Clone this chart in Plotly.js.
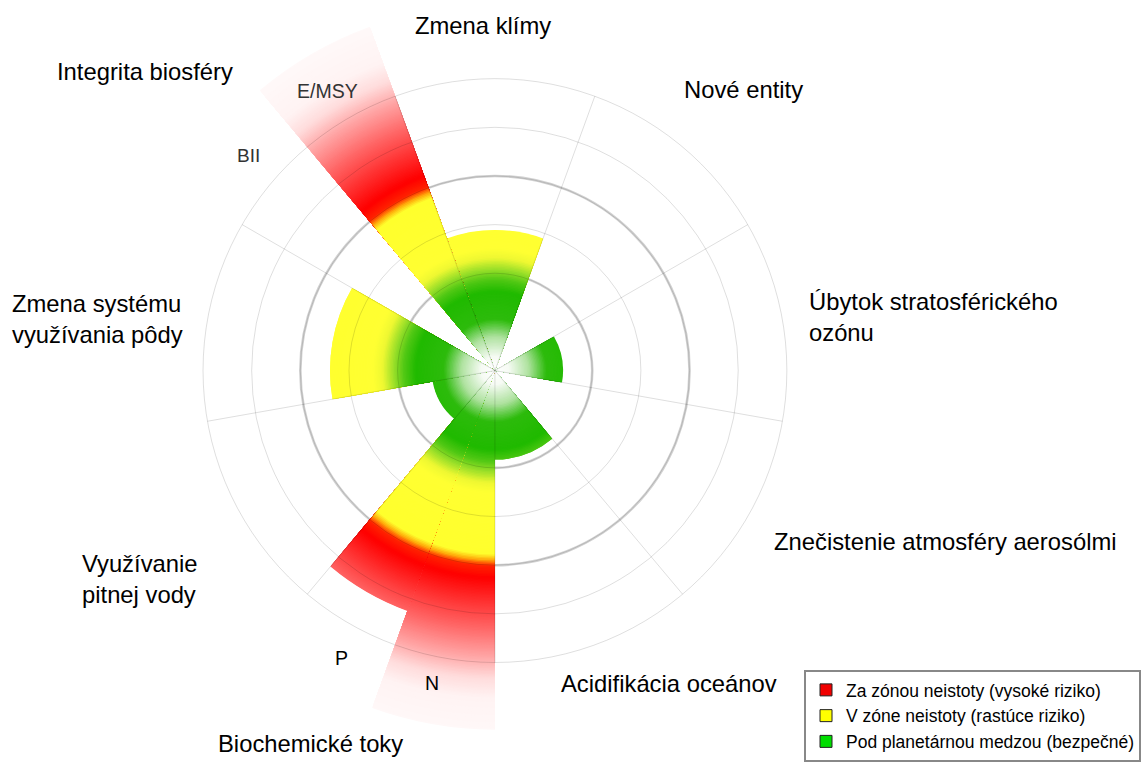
<!DOCTYPE html>
<html><head><meta charset="utf-8">
<script src="https://cdn.plot.ly/plotly-3.0.1.min.js"></script>
<style>html,body{margin:0;padding:0;background:#fff}#chart{width:1141px;height:762px}</style>
</head><body><div id="chart"></div>
<script>
// ---- data ----
const categories = ['Zmena klímy','Nové entity','Úbytok stratosférického ozónu','Znečistenie atmosféry aerosólmi','Acidifikácia oceánov','Biochemické toky – N','Biochemické toky – P','Využívanie pitnej vody','Zmena systému využívania pôdy','Integrita biosféry – BII','Integrita biosféry – E/MSY'];
const thetaCenter = [0, 40, 80, 120, 160, 190, 210, 240, 280, 310, 330];
const thetaWidth  = [40, 40, 40, 40, 40, 20, 20, 40, 40, 20, 20];
// control variable in units where the planetary boundary = 2 (null = not quantified)
const values = [2.89, null, 1.40, null, 1.83, 7.38, 5.26, 1.30, 3.39, null, 7.52];
const legendNames = ['Za zónou neistoty (vysoké riziko)', 'V zóne neistoty (rastúce riziko)', 'Pod planetárnou medzou (bezpečné)'];
const legendColors = ['#f00000', '#ffff00', '#00dd00'];

// ---- geometry / style ----
const W = 1141, H = 762, CX = 498, CY = 375.5, PX = 49.3, STEP = 0.03;
// radial colour ramp (pixel radius -> rgb)
const stops = [
  [0,255,255,255],[14,246,251,244],[34,175,226,160],[52,45,187,12],[80,32,186,0],
  [92,80,200,20],[102,150,222,40],[114,238,248,50],[124,255,255,50],[186,255,255,45],
  [192,255,170,10],[198,255,35,0],[210,255,0,0],[230,255,40,40],[260,255,100,100],
  [290,255,165,165],[312,255,220,220],[332,255,243,243],[380,255,250,250]];
function colorAt(p){
  for(let i=1;i<stops.length;i++){
    if(p<=stops[i][0]){const a=stops[i-1],b=stops[i],t=(p-a[0])/(b[0]-a[0]);
      return 'rgb('+[1,2,3].map(j=>Math.round(a[j]+(b[j]-a[j])*t)).join(',')+')';}
  }
  const l=stops[stops.length-1];return 'rgb('+l[1]+','+l[2]+','+l[3]+')';
}
const bandR=[], bandT=[], bandW=[], bandC=[];
values.forEach((v,i)=>{
  if(v==null) return;
  const n=Math.ceil(v/STEP);
  for(let k=n;k>=1;k--){
    bandR.push(Math.min(v,k*STEP)); bandT.push(thetaCenter[i]); bandW.push(thetaWidth[i]);
    bandC.push(colorAt((k-0.5)*STEP*PX));
  }
});
const traces=[{type:'barpolar', subplot:'polar', r:bandR, theta:bandT, width:bandW,
  marker:{color:bandC, line:{width:0}}, showlegend:false, hoverinfo:'skip'}];
legendNames.forEach((nm,i)=>traces.push({type:'barpolar', subplot:'polar', r:[null], theta:[0], name:nm,
  marker:{color:legendColors[i], line:{color:'#222', width:1}}, hoverinfo:'skip'}));
traces.push({type:'scatterpolar', subplot:'polar2', r:[null], theta:[null], mode:'lines', showlegend:false, hoverinfo:'skip'});

function dom(R){return {x:[(CX-R)/W,(CX+R)/W], y:[(H-CY-R)/H,(H-CY+R)/H]};}
const grid='rgba(0,0,0,0.13)';
const FONT='Liberation Sans, Arial, sans-serif';
function ann(text,x,y,opt){opt=opt||{};return {text:text, xref:'paper', yref:'paper', x:x/W, y:1-y/H,
  xanchor:opt.xa||'left', yanchor:'middle', align:'left', showarrow:false,
  font:{family:FONT, size:opt.size||23.8, color:opt.color||'#000'}};}
const annotations=[
  ann('Zmena klímy',486,26,{xa:'center'}),
  ann('Integrita biosféry',55,72),
  ann('Nové entity',686,91),
  ann('Úbytok stratosférického<br>ozónu',812,321.5),
  ann('Znečistenie atmosféry aerosólmi',777,548.5),
  ann('Acidifikácia oceánov',562,692.5),
  ann('Biochemické toky',217,753),
  ann('Využívanie<br>pitnej vody',80,587),
  ann('Zmena systému<br>využívania pôdy',10,323),
  ann('E/MSY',329.5,92.5,{xa:'center',size:19.5,color:'#333'}),
  ann('BII',250,158,{xa:'center',size:19,color:'#333'}),
  ann('P',344,667,{xa:'center',size:19.5}),
  ann('N',435,692,{xa:'center',size:19.5})
];
const layout={
  width:W, height:H, margin:{l:0,r:0,t:0,b:0}, paper_bgcolor:'#fff',
  font:{family:FONT},
  polar:{domain:dom(7.6*PX), bgcolor:'#fff', barmode:'overlay', bargap:0,
    radialaxis:{type:'linear', range:[0,7.6], tickmode:'array', tickvals:[2,4], showticklabels:false, ticks:'', showline:false,
      gridcolor:'rgb(210,210,210)', gridwidth:2.6},
    angularaxis:{type:'linear', rotation:90, direction:'clockwise', showgrid:false, showline:false, showticklabels:false, ticks:''}},
  polar2:{domain:dom(6*PX), bgcolor:'rgba(0,0,0,0)',
    radialaxis:{type:'linear', range:[0,6], tickmode:'array', tickvals:[2,3,4,5], showticklabels:false, ticks:'', showline:false,
      gridcolor:grid, gridwidth:1},
    angularaxis:{type:'linear', rotation:90, direction:'clockwise', tickmode:'array', tickvals:[20,60,100,140,180,220,260,300,340],
      showticklabels:false, ticks:'', gridcolor:grid, gridwidth:1, showline:true, linecolor:grid, linewidth:1}},
  showlegend:true,
  legend:{x:809/W, y:1-679/H, xanchor:'left', yanchor:'top', bgcolor:'#fff', bordercolor:'#888', borderwidth:2,
    font:{family:FONT, size:17.5, color:'#000'}},
  annotations:annotations
};
Plotly.newPlot('chart', traces, layout, {displayModeBar:false, staticPlot:true});
</script></body></html>
